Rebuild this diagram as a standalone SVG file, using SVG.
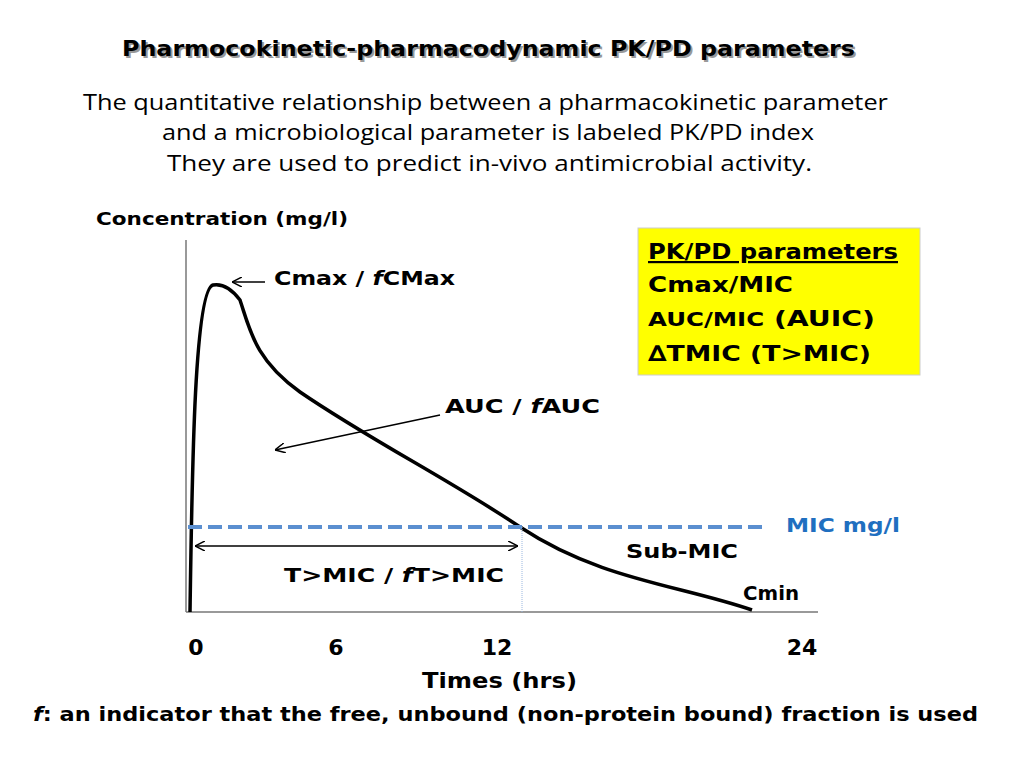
<svg xmlns="http://www.w3.org/2000/svg" width="1024" height="768" viewBox="0 0 1024 768">
<style>
.b{font-family:"DejaVu Sans","Noto Sans",sans-serif;font-weight:bold;fill:#000}
.n{font-family:"Open Sans","Noto Sans",sans-serif;fill:#000;font-size:21px}
.ln{stroke:#000;stroke-width:1.5;fill:none}
</style>
<defs>
<marker id="a" viewBox="0 0 10 10" refX="10" refY="5" markerWidth="10" markerHeight="10" markerUnits="userSpaceOnUse" orient="auto-start-reverse"><path d="M0,0 L10,5 L0,10" fill="none" stroke="#000" stroke-width="1.5"/></marker>
</defs>
<rect width="1024" height="768" fill="#fff"/>
<text x="124" y="58" class="b" font-size="21" style="fill:#999" textLength="733" lengthAdjust="spacingAndGlyphs">Pharmocokinetic-pharmacodynamic PK/PD parameters</text>
<text x="122" y="56" class="b" font-size="21" textLength="733" lengthAdjust="spacingAndGlyphs">Pharmocokinetic-pharmacodynamic PK/PD parameters</text>
<text x="83" y="110" class="n" textLength="805" lengthAdjust="spacingAndGlyphs">The quantitative relationship between a pharmacokinetic parameter</text>
<text x="162" y="140" class="n" textLength="652" lengthAdjust="spacingAndGlyphs">and a microbiological parameter is labeled PK/PD index</text>
<text x="167" y="171" class="n" textLength="645" lengthAdjust="spacingAndGlyphs">They are used to predict in-vivo antimicrobial activity.</text>
<text x="96" y="225" class="b" font-size="18" textLength="252" lengthAdjust="spacingAndGlyphs">Concentration (mg/l)</text>
<g id="axes">
<line x1="186" y1="240" x2="186" y2="612" stroke="#777" stroke-width="1.5"/>
<line x1="186" y1="612" x2="818" y2="612" stroke="#777" stroke-width="1.5"/>
</g>
<g id="curve"><path style="stroke:#000;stroke-width:3.5;fill:none" d="M190,612 C192,480 194,290 213,285 C224,283 234,292 240,300 C250,330 255,360 300,392 C370,440 450,480 520,527 C600,580 680,585 752,610"/></g>
<line x1="188" y1="527" x2="765" y2="527" stroke="#5b8fd0" stroke-width="4" stroke-dasharray="14,6"/>
<line x1="522" y1="527" x2="522" y2="612" stroke="#9ab8e0" stroke-width="1" stroke-dasharray="1,1"/>
<g id="connectors">
<line class="ln" x1="265" y1="282" x2="232" y2="282" marker-end="url(#a)"/>
<line class="ln" x1="440" y1="415" x2="275" y2="450" marker-end="url(#a)"/>
<line class="ln" x1="195" y1="546" x2="518" y2="546" marker-start="url(#a)" marker-end="url(#a)"/>
</g>
<text x="274" y="285" class="b" font-size="19" textLength="181" lengthAdjust="spacingAndGlyphs">Cmax / <tspan font-style="italic">f</tspan>CMax</text>
<text x="445" y="413" class="b" font-size="19" textLength="155" lengthAdjust="spacingAndGlyphs">AUC / <tspan font-style="italic">f</tspan>AUC</text>
<text x="284" y="582" class="b" font-size="19" textLength="220" lengthAdjust="spacingAndGlyphs">T&gt;MIC / <tspan font-style="italic">f</tspan>T&gt;MIC</text>
<text x="626" y="558" class="b" font-size="19" textLength="112" lengthAdjust="spacingAndGlyphs">Sub-MIC</text>
<text x="743" y="600" class="b" font-size="19" textLength="56" lengthAdjust="spacingAndGlyphs">Cmin</text>
<text x="786" y="532" class="b" font-size="19" style="fill:#1f6fc0" textLength="114" lengthAdjust="spacingAndGlyphs">MIC mg/l</text>
<g id="box">
<rect x="638" y="228" width="282" height="147" fill="#ffff00" stroke="#ccc"/>
<text x="648" y="259" class="b" font-size="22" text-decoration="underline" textLength="250" lengthAdjust="spacingAndGlyphs">PK/PD parameters</text>
<text x="648" y="292" class="b" font-size="22" textLength="145" lengthAdjust="spacingAndGlyphs">Cmax/MIC</text>
<text x="648" y="326" class="b" font-size="22" textLength="227" lengthAdjust="spacingAndGlyphs"><tspan font-size="19">AUC/MIC</tspan> (AUIC)</text>
<text x="648" y="361" class="b" font-size="22" textLength="223" lengthAdjust="spacingAndGlyphs">∆TMIC (T&gt;MIC)</text>
</g>
<text x="196" y="655" text-anchor="middle" class="b" font-size="22">0</text>
<text x="336" y="655" text-anchor="middle" class="b" font-size="22">6</text>
<text x="497" y="655" text-anchor="middle" class="b" font-size="22">12</text>
<text x="802" y="655" text-anchor="middle" class="b" font-size="22">24</text>
<text x="422" y="688" class="b" font-size="21" textLength="155" lengthAdjust="spacingAndGlyphs">Times (hrs)</text>
<text x="33" y="721" class="b" font-size="19" textLength="945" lengthAdjust="spacingAndGlyphs"><tspan font-style="italic">f</tspan>: an indicator that the free, unbound (non-protein bound) fraction is used</text>
</svg>
